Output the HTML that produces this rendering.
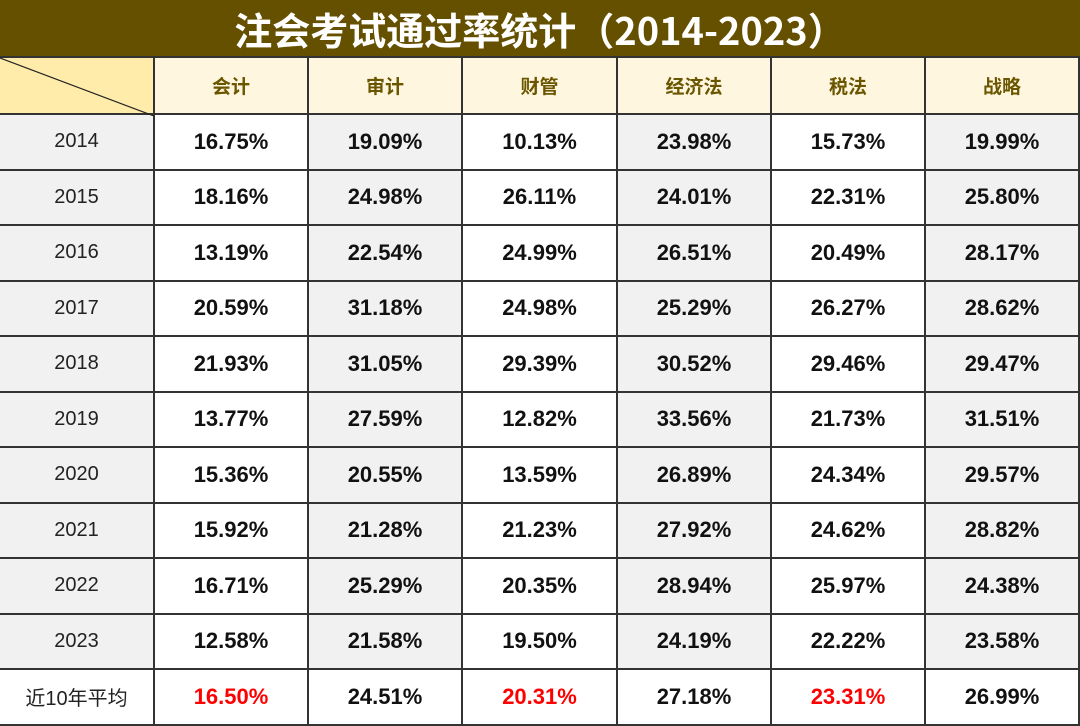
<!DOCTYPE html>
<html><head><meta charset="utf-8"><style>
body{margin:0;width:1080px;height:724px;overflow:hidden;background:#fff;font-family:"Liberation Sans","Noto Sans CJK SC",sans-serif;}
.title{position:absolute;left:0;top:0;width:1080px;height:57px;background:#655000;color:#fff;font-weight:bold;font-size:38px;line-height:57px;text-align:center;font-family:"Noto Sans CJK SC","Liberation Sans",sans-serif;}
table{position:absolute;left:0;top:56px;border-collapse:collapse;table-layout:fixed;width:1079px;}
td{border:2px solid #333;text-align:center;padding:0;font-size:22px;font-weight:bold;color:#111;height:53.5px;}
tr.h td{height:55px;background:#FFF6DF;color:#6b5600;font-size:19px;font-family:"Noto Sans CJK SC",sans-serif;}
tr.h td.c{background:#FFEBAA;position:relative;}
td.y{background:#f1f1f1;font-weight:normal;font-size:20px;color:#222;}
td.g{background:#f1f1f1;}
.r{color:#f00;}
tr.l td.y{background:#fff;font-family:"Liberation Sans","Noto Sans CJK SC",sans-serif;}
td:first-child{border-left:none;}
</style></head><body>
<div class="title">注会考试通过率统计（2014-2023）</div>
<table>
<colgroup><col style="width:154px"><col style="width:154px"><col style="width:154px"><col style="width:155px"><col style="width:154px"><col style="width:154px"><col style="width:154px"></colgroup>
<tr class="h"><td class="c"><svg width="154" height="58" style="position:absolute;left:0;top:0"><line x1="0" y1="0" x2="154" y2="58" stroke="#222" stroke-width="1.2"/></svg></td><td>会计</td><td>审计</td><td>财管</td><td>经济法</td><td>税法</td><td>战略</td></tr>
<tr><td class="y">2014</td><td>16.75%</td><td class="g">19.09%</td><td>10.13%</td><td class="g">23.98%</td><td>15.73%</td><td class="g">19.99%</td></tr>
<tr><td class="y">2015</td><td>18.16%</td><td class="g">24.98%</td><td>26.11%</td><td class="g">24.01%</td><td>22.31%</td><td class="g">25.80%</td></tr>
<tr><td class="y">2016</td><td>13.19%</td><td class="g">22.54%</td><td>24.99%</td><td class="g">26.51%</td><td>20.49%</td><td class="g">28.17%</td></tr>
<tr><td class="y">2017</td><td>20.59%</td><td class="g">31.18%</td><td>24.98%</td><td class="g">25.29%</td><td>26.27%</td><td class="g">28.62%</td></tr>
<tr><td class="y">2018</td><td>21.93%</td><td class="g">31.05%</td><td>29.39%</td><td class="g">30.52%</td><td>29.46%</td><td class="g">29.47%</td></tr>
<tr><td class="y">2019</td><td>13.77%</td><td class="g">27.59%</td><td>12.82%</td><td class="g">33.56%</td><td>21.73%</td><td class="g">31.51%</td></tr>
<tr><td class="y">2020</td><td>15.36%</td><td class="g">20.55%</td><td>13.59%</td><td class="g">26.89%</td><td>24.34%</td><td class="g">29.57%</td></tr>
<tr><td class="y">2021</td><td>15.92%</td><td class="g">21.28%</td><td>21.23%</td><td class="g">27.92%</td><td>24.62%</td><td class="g">28.82%</td></tr>
<tr><td class="y">2022</td><td>16.71%</td><td class="g">25.29%</td><td>20.35%</td><td class="g">28.94%</td><td>25.97%</td><td class="g">24.38%</td></tr>
<tr><td class="y">2023</td><td>12.58%</td><td class="g">21.58%</td><td>19.50%</td><td class="g">24.19%</td><td>22.22%</td><td class="g">23.58%</td></tr>
<tr class="l"><td class="y">近10年平均</td><td class="r">16.50%</td><td>24.51%</td><td class="r">20.31%</td><td>27.18%</td><td class="r">23.31%</td><td>26.99%</td></tr>
</table>
</body></html>
